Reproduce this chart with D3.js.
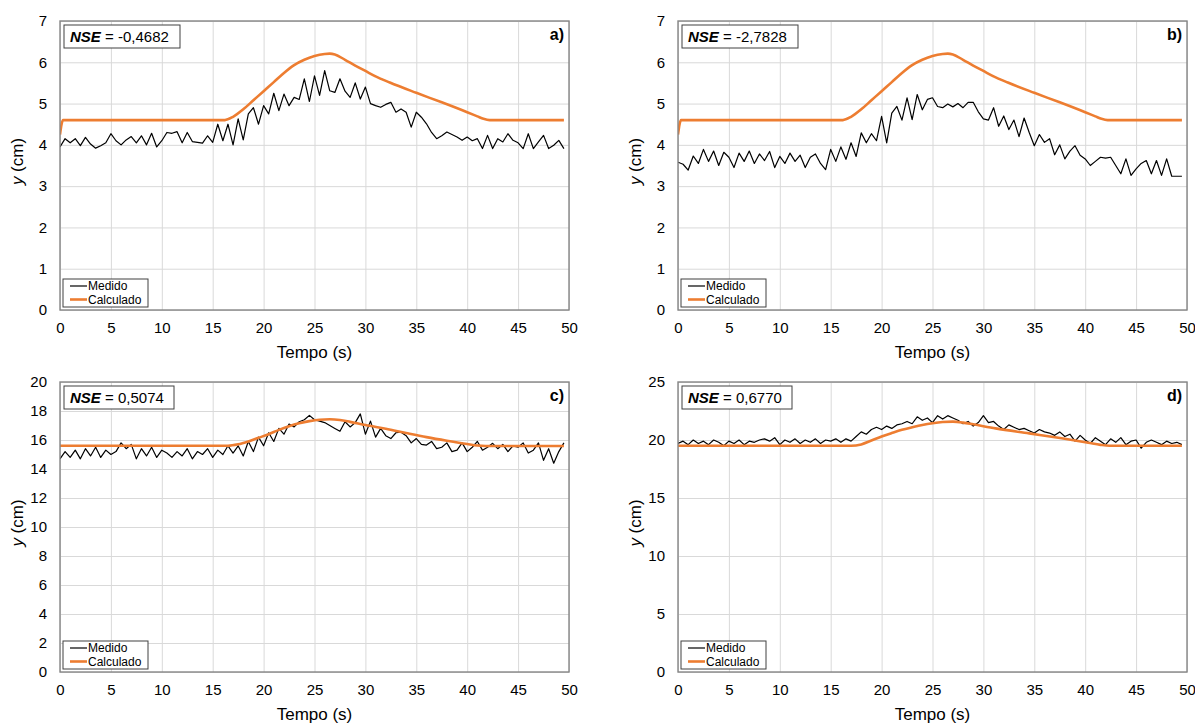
<!DOCTYPE html>
<html>
<head>
<meta charset="utf-8">
<script src="https://d3js.org/d3.v7.min.js"></script>
<style>
  body { margin: 0; background: #fff; }
  svg { display: block; font-family: "Liberation Sans", Arial, sans-serif; }
</style>
</head>
<body>
<svg id="chart" width="1195" height="724"></svg>
<script>
// Measured series, one sample every 0.5 s starting at t = 0
const sampleStep = 0.5;

const medidoA = [3.95, 4.15, 4.05, 4.15, 3.98, 4.18, 4.02, 3.92, 3.98, 4.05,
  4.27, 4.1, 4.0, 4.12, 4.2, 4.05, 4.22, 4.0, 4.28, 3.95,
  4.1, 4.3, 4.28, 4.32, 4.05, 4.3, 4.08, 4.06, 4.04, 4.22,
  4.06, 4.5, 4.1, 4.5, 4.0, 4.63, 4.12, 4.75, 4.9, 4.5,
  4.95, 4.75, 5.25, 4.83, 5.23, 4.95, 5.15, 5.1, 5.6, 5.05,
  5.67, 5.2, 5.8, 5.31, 5.27, 5.6, 5.3, 5.15, 5.5, 5.11,
  5.4, 5.0, 4.95, 4.91, 4.98, 5.03, 4.79, 4.87, 4.79, 4.43,
  4.79, 4.67, 4.51, 4.3, 4.15, 4.22, 4.31, 4.25, 4.19, 4.11,
  4.19, 4.1, 4.15, 3.91, 4.23, 3.91, 4.15, 4.07, 4.27, 4.11,
  4.05, 3.91, 4.27, 3.91, 4.07, 4.23, 3.91, 3.99, 4.11, 3.91];

const medidoB = [3.58, 3.53, 3.39, 3.73, 3.55, 3.89, 3.6, 3.85, 3.5, 3.82,
  3.7, 3.45, 3.8, 3.6, 3.85, 3.55, 3.78, 3.62, 3.84, 3.45,
  3.72, 3.55, 3.8, 3.6, 3.75, 3.45, 3.7, 3.78, 3.55, 3.4,
  3.89, 3.6, 3.95, 3.65, 4.05, 3.72, 4.29, 4.05, 4.27, 4.1,
  4.69, 4.05, 4.77, 4.93, 4.6, 5.14, 4.61, 5.22, 4.85, 5.1,
  5.14, 4.93, 4.9, 4.99, 4.92, 5.0, 4.9, 5.03, 5.03, 4.8,
  4.63, 4.6, 4.9, 4.45, 4.7, 4.37, 4.6, 4.2, 4.65, 4.3,
  3.98, 4.25, 4.06, 4.15, 3.76, 4.0, 3.66, 3.85, 3.98, 3.75,
  3.66, 3.5, 3.6, 3.7, 3.68, 3.7, 3.5, 3.3, 3.66, 3.26,
  3.42, 3.55, 3.62, 3.3, 3.62, 3.26, 3.66, 3.24, 3.24, 3.24];

const medidoC = [14.7, 15.2, 14.8, 15.3, 14.7, 15.4, 14.9, 15.5, 14.8, 15.3,
  15.0, 15.2, 15.8, 15.4, 15.7, 14.7, 15.4, 14.9, 15.5, 14.8,
  15.3, 15.1, 14.8, 15.2, 14.9, 15.4, 14.7, 15.2, 15.0, 15.4,
  14.8, 15.3, 15.0, 15.6, 15.1, 15.6, 14.9, 15.9, 15.2, 16.2,
  15.6, 16.5, 15.9, 16.8, 16.4, 17.1, 16.9, 17.26, 17.4, 17.7,
  17.4, 17.3, 17.2, 17.0, 16.8, 16.6, 17.26, 16.9, 17.2, 17.8,
  16.4, 17.3, 16.2, 16.8, 16.3, 16.1, 16.5, 16.54, 16.3, 15.8,
  16.1, 15.7, 15.65, 15.9, 15.4, 15.5, 15.8, 15.2, 15.3, 15.8,
  15.2, 15.5, 15.9, 15.3, 15.5, 15.77, 15.4, 15.7, 15.2, 15.6,
  15.5, 15.8, 15.1, 15.3, 15.8, 14.6, 15.4, 14.4, 15.2, 15.8];

const medidoD = [19.7, 19.9, 19.6, 20.0, 19.7, 19.9, 19.6, 20.0, 19.8, 19.5,
  19.9, 19.7, 20.0, 19.6, 19.9, 19.8, 20.0, 20.1, 19.9, 20.2,
  19.6, 20.0, 19.8, 20.1, 19.7, 20.0, 19.8, 20.1, 19.7, 20.0,
  19.9, 20.1, 19.8, 20.1, 19.9, 20.3, 20.7, 20.5, 20.9, 21.1,
  20.9, 21.2, 21.0, 21.3, 21.4, 21.6, 21.4, 22.0, 21.7, 21.9,
  21.5, 22.1, 21.8, 22.1, 21.9, 21.7, 21.4, 21.6, 21.2, 21.5,
  22.1, 21.5, 21.6, 21.2, 20.9, 21.3, 21.1, 20.9, 21.0, 20.8,
  20.6, 20.9, 20.7, 20.6, 20.4, 20.7, 20.3, 20.5, 19.9, 20.4,
  20.0, 19.7, 20.2, 19.9, 19.6, 20.1, 19.8, 20.2, 19.6, 19.9,
  20.0, 19.3, 19.8, 20.0, 19.8, 19.6, 19.9, 19.7, 19.8, 19.6];

// Calculated series (knots)
const calcTimeAB = [0, 0.3, 16.2, 17, 18, 19, 20, 21, 22, 23, 24, 25, 26, 26.5, 27, 28, 29, 30, 31, 32.4, 35, 37.5, 40, 41, 41.6, 42.2, 49.5];
const calcA = [4.25, 4.6, 4.6, 4.68, 4.86, 5.08, 5.3, 5.52, 5.74, 5.93, 6.06, 6.15, 6.2, 6.21, 6.19, 6.06, 5.92, 5.79, 5.66, 5.51, 5.26, 5.03, 4.79, 4.69, 4.63, 4.6, 4.6];
const calcB = calcA;

const calcTimeC = [0, 16.5, 17.5, 18.5, 19.5, 20.5, 21.5, 22.5, 23.5, 24.5, 25.5, 26.5, 27.5, 28.5, 30, 32, 34, 36, 38, 40, 41, 41.8, 49.5];
const calcC = [15.6, 15.6, 15.7, 15.9, 16.15, 16.4, 16.7, 16.95, 17.15, 17.3, 17.4, 17.43, 17.38, 17.25, 17.03, 16.77, 16.48, 16.2, 15.95, 15.72, 15.62, 15.59, 15.59];

const calcTimeD = [0, 17, 18, 19, 20, 21, 22, 23, 24, 25, 26, 27, 28, 29, 31.2, 34.5, 37.7, 40.3, 41.5, 42.4, 49.5];
const calcD = [19.5, 19.5, 19.62, 19.95, 20.3, 20.6, 20.88, 21.1, 21.3, 21.45, 21.55, 21.58, 21.5, 21.35, 21.0, 20.57, 20.15, 19.77, 19.58, 19.5, 19.5];

// Axis ticks and labels
const xTicks = [0, 5, 10, 15, 20, 25, 30, 35, 40, 45, 50];
const yTicksAB = [0, 1, 2, 3, 4, 5, 6, 7];
const yTicksC = [0, 2, 4, 6, 8, 10, 12, 14, 16, 18, 20];
const yTicksD = [0, 5, 10, 15, 20, 25];
const panelLabels = ["a)", "b)", "c)", "d)"];
const nseValues = ["-0,4682", "-2,7828", "0,5074", "0,6770"];
const seriesNames = ["Medido", "Calculado"];

const ORANGE = "#ed7d31";
const svg = d3.select("#chart");

const panels = [
  { x0: 60, x1: 569, y0: 21, y1: 310, yTicks: yTicksAB, med: medidoA, ct: calcTimeAB, cv: calcA },
  { x0: 678, x1: 1187, y0: 21, y1: 310, yTicks: yTicksAB, med: medidoB, ct: calcTimeAB, cv: calcB },
  { x0: 60, x1: 569, y0: 382, y1: 672, yTicks: yTicksC, med: medidoC, ct: calcTimeC, cv: calcC },
  { x0: 678, x1: 1187, y0: 382, y1: 672, yTicks: yTicksD, med: medidoD, ct: calcTimeD, cv: calcD }
];

const fmt = d3.format("~g");

panels.forEach((p, i) => {
  const w = p.x1 - p.x0, h = p.y1 - p.y0;
  const x = d3.scaleLinear().domain([0, 50]).range([0, w]);
  const y = d3.scaleLinear().domain([0, d3.max(p.yTicks)]).range([h, 0]);
  const g = svg.append("g").attr("transform", `translate(${p.x0},${p.y0})`);

  // grid
  g.append("g").attr("transform", `translate(0,${h})`)
    .call(d3.axisBottom(x).tickValues(xTicks).tickSize(-h).tickFormat(""))
    .call(a => a.select(".domain").remove())
    .call(a => a.selectAll("line").attr("stroke", "#d9d9d9"));
  g.append("g")
    .call(d3.axisLeft(y).tickValues(p.yTicks).tickSize(-w).tickFormat(""))
    .call(a => a.select(".domain").remove())
    .call(a => a.selectAll("line").attr("stroke", "#d9d9d9"));

  // tick labels
  g.append("g").attr("transform", `translate(0,${h})`)
    .call(d3.axisBottom(x).tickValues(xTicks).tickSize(0).tickPadding(12).tickFormat(fmt))
    .call(a => a.select(".domain").remove())
    .call(a => a.selectAll("text").attr("font-size", 15).attr("fill", "#000").attr("font-family", null));
  g.append("g")
    .call(d3.axisLeft(y).tickValues(p.yTicks).tickSize(0).tickPadding(13).tickFormat(fmt))
    .call(a => a.select(".domain").remove())
    .call(a => a.selectAll("text").attr("font-size", 15).attr("fill", "#000").attr("font-family", null));

  // lines
  const clipId = "clip" + i;
  g.append("clipPath").attr("id", clipId).append("rect").attr("width", w).attr("height", h);
  const med = p.med.map((v, k) => [k * sampleStep, v]);
  const calc = p.ct.map((t, k) => [t, p.cv[k]]);
  const line = d3.line().x(d => x(d[0])).y(d => y(d[1]));
  g.append("path").datum(med).attr("clip-path", `url(#${clipId})`)
    .attr("fill", "none").attr("stroke", "#000").attr("stroke-width", 1.2)
    .attr("stroke-linejoin", "round").attr("d", line);
  g.append("path").datum(calc).attr("clip-path", `url(#${clipId})`)
    .attr("fill", "none").attr("stroke", ORANGE).attr("stroke-width", 2.6)
    .attr("stroke-linejoin", "round").attr("d", line.curve(d3.curveMonotoneX));

  // frame
  g.append("rect").attr("width", w).attr("height", h)
    .attr("fill", "none").attr("stroke", "#868686").attr("stroke-width", 1.4);

  // NSE box
  const nse = g.append("g").attr("transform", "translate(4,4)");
  nse.append("rect").attr("width", i < 2 ? 116 : 110).attr("height", 23)
    .attr("fill", "#fff").attr("stroke", "#404040").attr("stroke-width", 1);
  const nt = nse.append("text").attr("x", 6).attr("y", 17).attr("font-size", 15);
  nt.append("tspan").attr("font-weight", "bold").attr("font-style", "italic").text("NSE");
  nt.append("tspan").text(" = " + nseValues[i]);

  // panel label
  g.append("text").attr("x", w - 5).attr("y", 19).attr("text-anchor", "end")
    .attr("font-size", 16).attr("font-weight", "bold").text(panelLabels[i]);

  // legend
  const lg = g.append("g").attr("transform", `translate(3,${h - 31})`);
  lg.append("rect").attr("width", 85).attr("height", 28)
    .attr("fill", "#fff").attr("stroke", "#404040").attr("stroke-width", 1);
  [["#000", 1.2], [ORANGE, 2.6]].forEach((s, k) => {
    const yy = 7 + k * 13.5;
    lg.append("line").attr("x1", 7).attr("x2", 24).attr("y1", yy).attr("y2", yy)
      .attr("stroke", s[0]).attr("stroke-width", s[1]);
    lg.append("text").attr("x", 25).attr("y", yy + 4.2).attr("font-size", 12).text(seriesNames[k]);
  });

  // axis titles
  g.append("text").attr("x", w / 2).attr("y", h + 48).attr("text-anchor", "middle")
    .attr("font-size", 17).text("Tempo (s)");
  const yt = g.append("text").attr("transform", `translate(-37,${h / 2 - 4}) rotate(-90)`)
    .attr("text-anchor", "middle").attr("font-size", 17);
  yt.append("tspan").attr("font-style", "italic").text("y");
  yt.append("tspan").text(" (cm)");
});
</script>
</body>
</html>
